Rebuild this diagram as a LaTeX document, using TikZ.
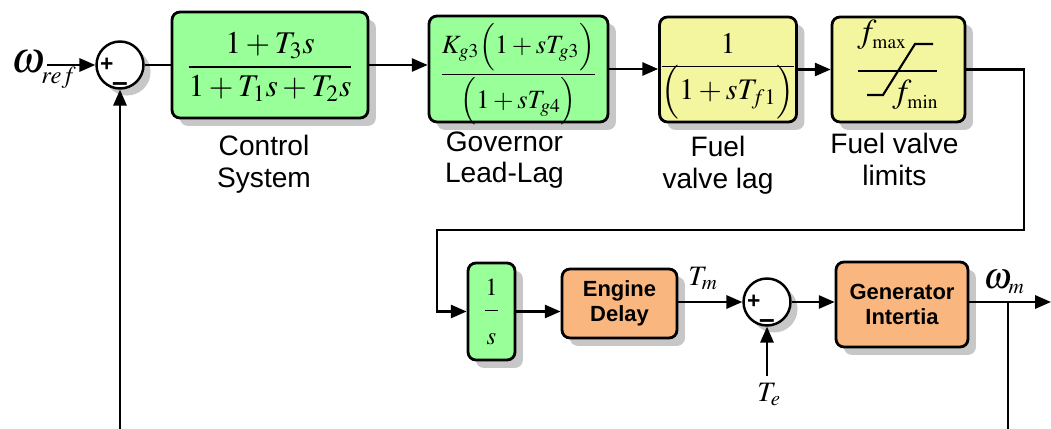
\documentclass[tikz,border=0pt]{standalone}
\usepackage{mathptmx}
\usepackage{fontspec}
\setsansfont{Liberation Sans}
\usetikzlibrary{positioning, arrows.meta, shadows}

\definecolor{blkgreen}{RGB}{153,255,153}
\definecolor{blkyellow}{RGB}{243,246,158}
\definecolor{blkorange}{RGB}{249,182,126}

\newcommand{\smallsub}[2]{\hbox{\fontsize{#1}{#1}\selectfont$#2$}}

\begin{document}
\begin{tikzpicture}[
    x=0.02cm, y=-0.02cm,
    blk/.style={rectangle, rounded corners=4.5pt, draw, line width=1.6pt, inner sep=0pt, align=center,
        drop shadow={shadow xshift=4.5pt, shadow yshift=-4.5pt, fill=black!22, opacity=1}},
    sumj/.style={circle, draw, line width=1.4pt, fill=white, minimum size=0.94cm, inner sep=0pt,
        drop shadow={shadow xshift=4pt, shadow yshift=-4pt, fill=black!22, opacity=1}},
    sgn/.style={inner sep=0pt, font=\sffamily\bfseries\fontsize{13}{15}\selectfont},
    arrow/.style={-{Triangle[length=9pt, width=7.5pt]}, line width=1.3pt},
    wire/.style={line width=1.3pt},
    lbl/.style={align=center, inner sep=0pt, font=\sffamily\fontsize{16}{18}\selectfont},
    sig/.style={inner sep=0pt, anchor=base west, font=\fontsize{16}{18}\selectfont}
]
\useasboundingbox (0,0) rectangle (1051,429);

% Upper row
\node[sumj] (sum1) at (120,65) {};
\node[blk, fill=blkgreen, minimum width=3.92cm, minimum height=2.12cm, font=\fontsize{18}{20}\selectfont] (ctrl) at (270,65)
    {\raisebox{-1pt}[\height][\depth]{$\displaystyle\frac{1+T_3s}{1+T_1s+T_2s}$}};
\node[blk, fill=blkgreen, minimum width=3.58cm, minimum height=2.12cm, font=\fontsize{15}{17}\selectfont] (gov) at (518.5,69)
    {\raisebox{-3pt}[\height][\depth]{$\displaystyle\frac{K_{g3}\Bigl(1+sT_{g3}\Bigr)}{\Bigl(1+sT_{g4}\Bigr)}$}};
\node[blk, fill=blkyellow, minimum width=2.64cm, minimum height=2.1cm, font=\fontsize{17}{19}\selectfont] (lag) at (728,69.5)
    {\raisebox{-5.5pt}[\height][\depth]{$\displaystyle\frac{1}{\raisebox{3pt}[\height][\depth]{$\displaystyle\Bigl(1+sT_{f1}\Bigr)$}}$}};
\node[blk, fill=blkyellow, minimum width=2.66cm, minimum height=2.1cm] (lim) at (898.5,69.5) {};

% Limiter characteristic
\draw[line width=1.2pt] (858,71) -- (937,71);
\draw[line width=1.2pt] (867,95) -- (883,95) -- (915,44) -- (933,44);
\node[sig, font=\fontsize{19}{21}\selectfont] (fmax) at (857,43) {$f_{\smallsub{11}{\mathrm{max}}}$};
\node[sig, font=\fontsize{19}{21}\selectfont] (fmin) at (892,103) {$f_{\smallsub{11}{\mathrm{min}}}$};

% Block captions
\node[lbl, below=9pt of ctrl, xshift=-3.4pt] (ctrllbl) {Control\\System};
\node[lbl, below=4.5pt of gov, xshift=-8pt] (govlbl) {Governor\\Lead-Lag};
\node[lbl, below=7pt of lag, xshift=-5.7pt] (laglbl) {Fuel\\valve lag};
\node[lbl, below=5.6pt of lim, xshift=-2.3pt] (limlbl) {Fuel valve\\limits};

% Lower row
\node[blk, fill=blkgreen, minimum width=0.94cm, minimum height=1.94cm, font=\fontsize{14}{16}\selectfont] (integ) at (491.5,311.5)
    {$\displaystyle\frac{1\rule[-7pt]{0pt}{7pt}}{\rule{0pt}{17pt}s}$};
\node[blk, fill=blkorange, minimum width=2.3cm, minimum height=1.38cm, font=\sffamily\bfseries\fontsize{12.5}{14}\selectfont] (eng) at (619.5,303.5)
    {Engine\\Delay};
\node[sumj] (sum2) at (767,302) {};
\node[blk, fill=blkorange, minimum width=2.64cm, minimum height=1.7cm, font=\sffamily\bfseries\fontsize{12.5}{14}\selectfont] (gen) at (902,304.5)
    {Generator\\Intertia};

% Signs on the summing points
\node[sgn, right=2.5pt of sum1.west] (p1) {+};
\node[sgn, above=-1pt of sum1.south, font=\sffamily\bfseries\fontsize{16}{18}\selectfont] (m1) {--};
\node[sgn, right=2.5pt of sum2.west] (p2) {+};
\node[sgn, above=-1pt of sum2.south, font=\sffamily\bfseries\fontsize{16}{18}\selectfont] (m2) {--};

% Signals
\node[sig, font=\fontsize{25}{27}\selectfont] (wref) at (11,72) {$\omega_{\lower3pt\smallsub{14}{ref}}$};
\node[sig] (tm) at (688,285) {$T_m$};
\node[sig] (te) at (757,401) {$T_e$};
\node[sig, font=\fontsize{21}{23}\selectfont] (wm) at (983,288) {$\omega_{\smallsub{12}{m}}$};

\coordinate (win) at (47,65);
\coordinate (c1) at (1024,230);
\coordinate (c2) at (437,230);
\coordinate (tein) at (767,376);
\coordinate (wout) at (1051,302);
\coordinate (tap) at (1008,302);
\coordinate (fbr) at (1008,429);
\coordinate (fbl) at (120,429);

% Connectors
\draw[arrow] (win) -- (sum1.west);
\draw[wire] (sum1.east) -- (ctrl.west);
\draw[arrow] (ctrl.east) -- (ctrl.east -| gov.west);
\draw[arrow] (gov.east) -- (gov.east -| lag.west);
\draw[arrow] (lag.east) -- (lag.east -| lim.west);
\draw[arrow] (lim.east) -| (c1) -- (c2) |- (integ.west);
\draw[arrow] (integ.east) -- (integ.east -| eng.west);
\draw[arrow] (sum2.west -| eng.east) -- (sum2.west);
\draw[arrow] (tein) -- (sum2.south);
\draw[arrow] (sum2.east) -- (sum2.east -| gen.west);
\draw[arrow] (gen.east |- wout) -- (wout);
\draw[wire] (tap) -- (fbr);
\draw[arrow] (fbl) -- (sum1.south);

\end{tikzpicture}
\end{document}
